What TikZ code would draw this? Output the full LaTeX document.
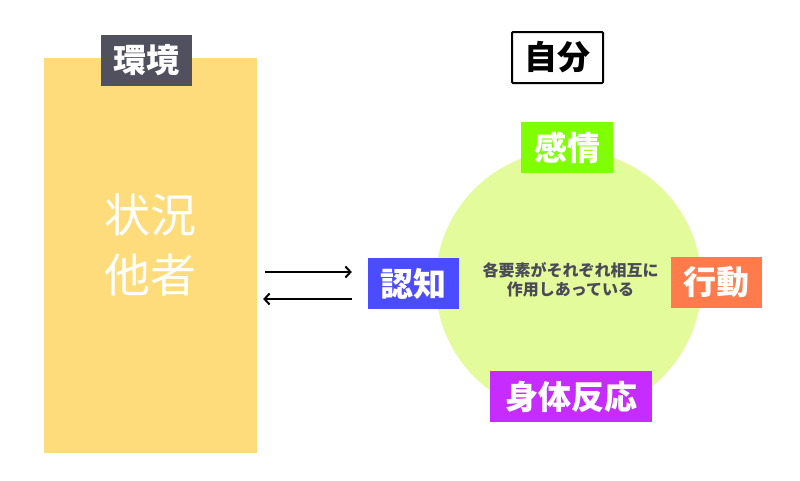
\documentclass[tikz,border=0pt]{standalone}
\usepackage{fontspec}
\newfontfamily\jp{Noto Sans CJK JP}
\usetikzlibrary{arrows.meta, calc, positioning}

\definecolor{envyellow}{HTML}{FFDC7B}
\definecolor{envgray}{HTML}{50505F}
\definecolor{selfgreen}{HTML}{E4FB9C}
\definecolor{kanjocol}{HTML}{80FF00}
\definecolor{ninchicol}{HTML}{4B4BFF}
\definecolor{kodocol}{HTML}{FF7B4B}
\definecolor{shintaicol}{HTML}{C62BFF}
\definecolor{notegray}{HTML}{4A4A58}

\begin{document}
\begin{tikzpicture}[x=1pt, y=-1pt,
    box/.style = {text=white, font=\jp\bfseries\fontsize{33}{33}\selectfont, minimum width=91pt, minimum height=51pt, inner sep=0pt},
    arr/.style = {-{Straight Barb[length=5pt, width=11pt]}, line width=2pt}]
    \useasboundingbox (0,0) rectangle (800,480);
    % environment side
    \node[fill=envyellow, minimum width=213pt, minimum height=395pt, inner sep=0pt] (env) at (150.5,255.5) {};
    \node[box, fill=envgray] (kankyo) at (146.5,60.5) {環境};
    \node[text=white, align=center, font=\jp\fontsize{46}{60}\selectfont] (jokyo) at (150,245) {状況\\他者};
    % self side
    \node[draw, line width=2pt, rounded corners=1pt, text=black, font=\jp\bfseries\fontsize{33}{33}\selectfont, minimum width=91pt, minimum height=51pt, inner sep=0pt] (jibun) at (557.5,57.5) {自分};
    \node[circle, fill=selfgreen, minimum size=266pt, inner sep=0pt] (self) at (568.5,283) {};
    \node[box, fill=kanjocol, minimum width=92pt] (kanjo) at (567,147.5) {感情};
    \node[box, fill=ninchicol] (ninchi) at (413.5,283.5) {認知};
    \node[box, fill=kodocol] (kodo) at (716.5,282.5) {行動};
    \node[box, fill=shintaicol, minimum width=162pt] (shintai) at (571,396.5) {身体反応};
    \node[text=notegray, align=center, font=\jp\bfseries\fontsize{16}{19}\selectfont] (note) at (570.5,280) {各要素がそれぞれ相互に\\作用しあっている};
    % arrows
    \draw[arr] ($(env.east |- ninchi.west)+(8,-11.5)$) -- ($(ninchi.west)+(-16,-11.5)$);
    \draw[arr] ($(ninchi.west)+(-16,15.5)$) -- ($(env.east |- ninchi.west)+(6,15.5)$);
\end{tikzpicture}
\end{document}
